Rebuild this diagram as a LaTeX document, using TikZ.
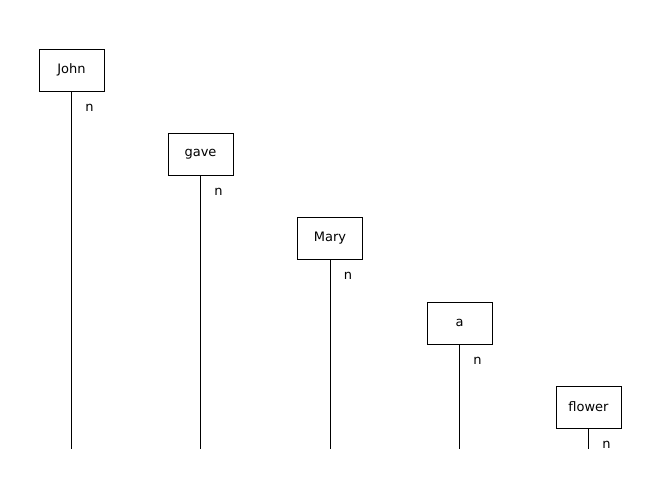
\documentclass[tikz,border=0pt]{standalone}
\usepackage{fontspec}
\setmainfont{DejaVu Sans}
\begin{document}
\begin{tikzpicture}[x=1pt,y=-1pt,
  word/.style={draw,line width=0.9pt,minimum width=65pt,minimum height=42pt,inner sep=0pt,font=\fontsize{13}{15}\selectfont},
  lab/.style={font=\fontsize{13}{15}\selectfont,inner sep=0pt},
  stem/.style={line width=0.9pt}]
\useasboundingbox (0,0) rectangle (660,499);
\node[word] (w1) at (71.5,70) {John};
\node[word] (w2) at (200.5,154) {gave};
\node[word] (w3) at (330,238) {Mary};
\node[word] (w4) at (459.5,323) {a};
\node[word] (w5) at (588.5,407) {flower};
\foreach \i/\x in {1/71.5,2/200.5,3/330,4/459.5,5/588.5}{
  \coordinate (e\i) at (\x,449);
  \draw[stem] (w\i.south) -- (e\i);
  \node[lab] (n\i) at ([xshift=18pt,yshift=-16pt]w\i.south) {n};
}
\end{tikzpicture}
\end{document}
